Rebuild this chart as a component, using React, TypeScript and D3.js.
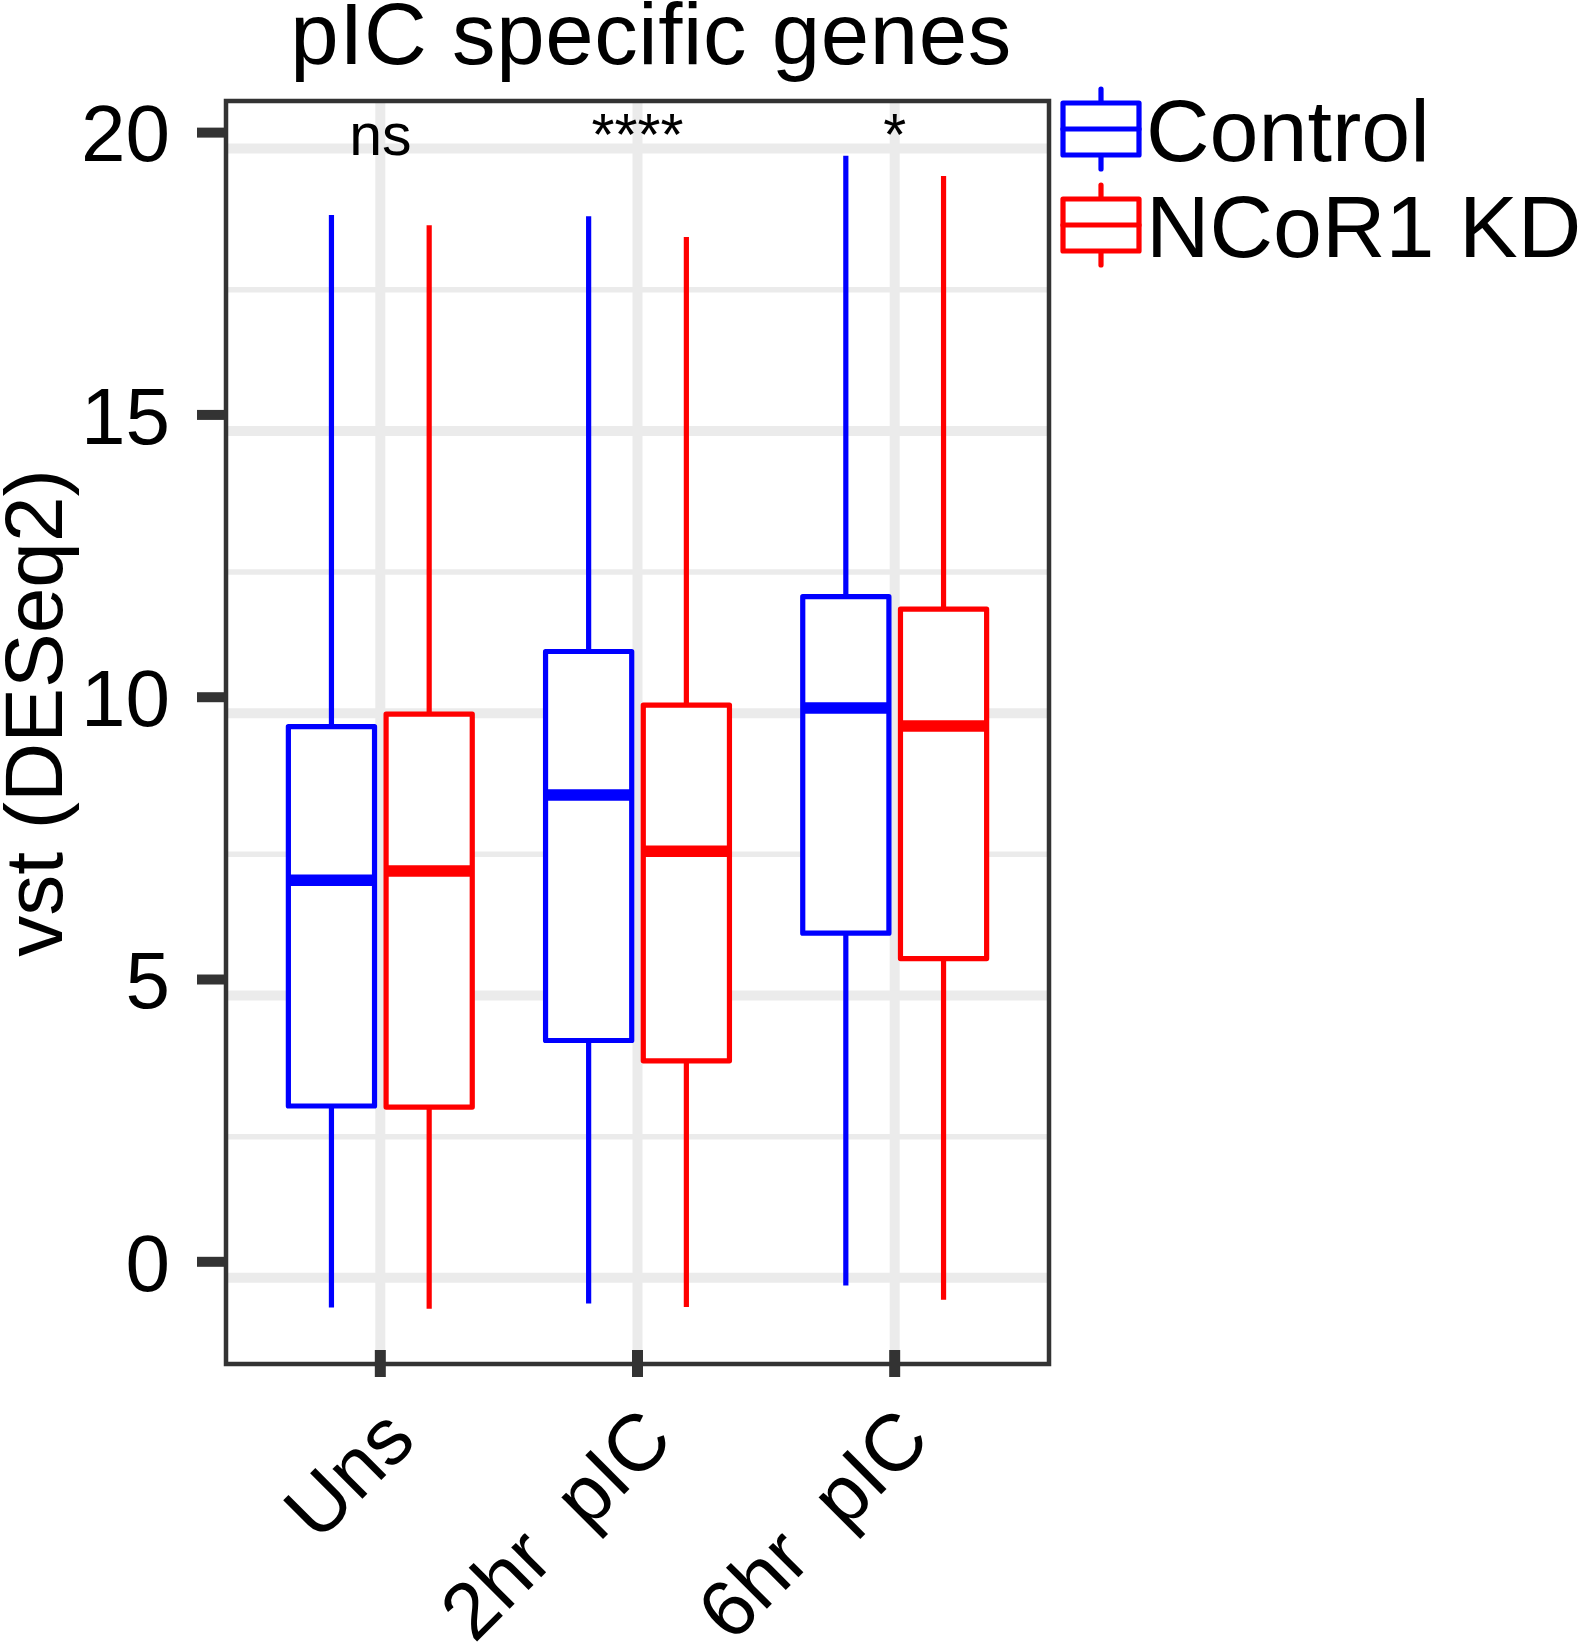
import * as d3 from 'd3'

// categories and groups
const categories = ['Uns', '2hr  pIC', '6hr  pIC']
const groups = ['Control', 'NCoR1 KD']
const groupColors = ['#0000FF', '#FF0000']

// box stats (vst units)
const controlMin = [-0.81, -0.74, -0.42]
const controlQ1 = [2.76, 3.92, 5.82]
const controlMedian = [6.76, 8.27, 9.81]
const controlQ3 = [9.48, 10.81, 11.78]
const controlMax = [18.54, 18.52, 19.59]

const kdMin = [-0.83, -0.8, -0.67]
const kdQ1 = [2.74, 3.56, 5.37]
const kdMedian = [6.92, 7.27, 9.49]
const kdQ3 = [9.7, 9.86, 11.56]
const kdMax = [18.36, 18.15, 19.23]

const significance = ['ns', '****', '*']
const yTicks = [0, 5, 10, 15, 20]
const yMinorTicks = [2.5, 7.5, 12.5, 17.5]

export default function App() {
  const width = 1581
  const height = 1650
  const panel = { left: 226, right: 1049, top: 101, bottom: 1364 }
  const font = "'Liberation Sans', Arial, Helvetica, sans-serif"
  const ink = '#333333'
  const gridColor = '#EBEBEB'
  const gridShift = 16 // the panel grid sits a little below the axis ticks

  const x = d3.scalePoint<string>()
    .domain(categories)
    .range([panel.left, panel.right])
    .padding(0.6)
  const step = x.step()

  const y = d3.scaleLinear()
    .domain([-1.81, 20.56])
    .range([panel.bottom, panel.top])

  const boxW = step * 0.335
  const dodge = step * 0.19
  const lw = 5.2

  const series = [
    { min: controlMin, q1: controlQ1, med: controlMedian, q3: controlQ3, max: controlMax },
    { min: kdMin, q1: kdQ1, med: kdMedian, q3: kdQ3, max: kdMax },
  ]

  const boxes = series.flatMap((s, gi) =>
    categories.map((c, ci) => ({
      cx: x(c)! + (gi === 0 ? -dodge : dodge),
      color: groupColors[gi],
      min: s.min[ci], q1: s.q1[ci], med: s.med[ci], q3: s.q3[ci], max: s.max[ci],
    }))
  )

  const inPanel = (py: number) => py > panel.top && py < panel.bottom

  return (
    <svg width={width} height={height} style={{ position: 'absolute', left: 0, top: 0, background: '#fff' }}>
      {/* grid */}
      {yMinorTicks.map(t => {
        const py = y(t) + gridShift
        return inPanel(py) ? (
          <line key={'mn' + t} x1={panel.left} x2={panel.right} y1={py} y2={py} stroke={gridColor} strokeWidth={5.5} />
        ) : null
      })}
      {yTicks.map(t => {
        const py = y(t) + gridShift
        return inPanel(py) ? (
          <line key={'mj' + t} x1={panel.left} x2={panel.right} y1={py} y2={py} stroke={gridColor} strokeWidth={10} />
        ) : null
      })}
      {categories.map(c => (
        <line key={'vg' + c} x1={x(c)} x2={x(c)} y1={panel.top} y2={panel.bottom} stroke={gridColor} strokeWidth={10} />
      ))}

      {/* boxes */}
      {boxes.map((b, i) => (
        <g key={i} stroke={b.color} fill="none">
          <line x1={b.cx} x2={b.cx} y1={y(b.q3)} y2={y(b.max)} strokeWidth={lw} />
          <line x1={b.cx} x2={b.cx} y1={y(b.q1)} y2={y(b.min)} strokeWidth={lw} />
          <rect x={b.cx - boxW / 2} y={y(b.q3)} width={boxW} height={y(b.q1) - y(b.q3)}
            fill="#fff" strokeWidth={lw} strokeLinejoin="round" />
          <line x1={b.cx - boxW / 2} x2={b.cx + boxW / 2} y1={y(b.med)} y2={y(b.med)} strokeWidth={11.5} />
        </g>
      ))}

      {/* significance labels */}
      {categories.map((c, i) => (
        <text key={'sig' + c} x={x(c)} y={y(19.6)} textAnchor="middle" fontFamily={font} fontSize={59} fill="#000">
          {significance[i]}
        </text>
      ))}

      {/* panel border */}
      <rect x={panel.left} y={panel.top} width={panel.right - panel.left} height={panel.bottom - panel.top}
        fill="none" stroke={ink} strokeWidth={4.5} />

      {/* y axis */}
      {yTicks.map(t => (
        <g key={'yt' + t}>
          <line x1={197} x2={panel.left - 2} y1={y(t)} y2={y(t)} stroke={ink} strokeWidth={10} />
          <text x={170} y={y(t)} dy="0.36em" textAnchor="end" fontFamily={font} fontSize={80} fill="#000">{t}</text>
        </g>
      ))}
      <text transform={`translate(62,713) rotate(-90)`} textAnchor="middle"
        fontFamily={font} fontSize={82} fill="#000">vst (DESeq2)</text>

      {/* x axis */}
      {categories.map(c => (
        <g key={'xt' + c}>
          <line x1={x(c)} x2={x(c)} y1={panel.bottom - 14} y2={panel.bottom + 13} stroke={ink} strokeWidth={11} />
          <text transform={`translate(${x(c)! + 38},1443) rotate(-45)`} textAnchor="end" fontFamily={font}
            fontSize={80} fill="#000" style={{ whiteSpace: 'pre' }}>{c}</text>
        </g>
      ))}

      {/* title */}
      <text x={651} y={64} textAnchor="middle" fontFamily={font} fontSize={87} letterSpacing={0.6}
        fill="#000">pIC specific genes</text>

      {/* legend */}
      {groups.map((g, i) => {
        const top = i === 0 ? 103 : 199
        const kx = 1063
        const kw = 76
        const kh = 52
        const cx = kx + kw / 2
        return (
          <g key={'lg' + g}>
            <g stroke={groupColors[i]} strokeWidth={lw} fill="none" strokeLinecap="round" strokeLinejoin="round">
              <line x1={cx} x2={cx} y1={top - 14} y2={top} />
              <line x1={cx} x2={cx} y1={top + kh} y2={top + kh + 14} />
              <rect x={kx} y={top} width={kw} height={kh} fill="#fff" />
              <line x1={kx} x2={kx + kw} y1={top + kh / 2} y2={top + kh / 2} />
            </g>
            <text x={1146} y={top + 58} fontFamily={font} fontSize={88} fill="#000">{g}</text>
          </g>
        )
      })}
    </svg>
  )
}
